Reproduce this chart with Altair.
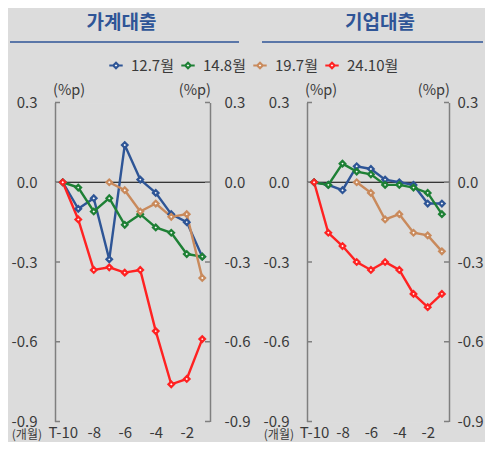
import altair as alt
import pandas as pd

# ---------------- data ----------------
months = [-10, -9, -8, -7, -6, -5, -4, -3, -2, -1]
series_names = ["12.7월", "14.8월", "19.7월", "24.10월"]
series_colors = ["#2E5596", "#1E8035", "#C98A5C", "#FF2222"]

# 가계대출 (household loans)
hh_127 = [0.00, -0.10, -0.06, -0.29, 0.14, 0.01, -0.04, -0.12, -0.15, -0.28]
hh_148 = [0.00, -0.02, -0.11, -0.06, -0.16, -0.12, -0.17, -0.19, -0.27, -0.28]
hh_197 = [None, None, None, 0.00, -0.03, -0.11, -0.08, -0.13, -0.12, -0.36]
hh_2410 = [0.00, -0.14, -0.33, -0.32, -0.34, -0.33, -0.56, -0.76, -0.74, -0.59]

# 기업대출 (corporate loans)
cp_127 = [0.00, -0.01, -0.03, 0.06, 0.05, 0.01, 0.00, -0.01, -0.08, -0.08]
cp_148 = [0.00, -0.01, 0.07, 0.04, 0.03, -0.01, -0.01, -0.02, -0.04, -0.12]
cp_197 = [None, None, None, 0.00, -0.04, -0.14, -0.12, -0.19, -0.20, -0.26]
cp_2410 = [0.00, -0.19, -0.24, -0.30, -0.33, -0.30, -0.33, -0.42, -0.47, -0.42]

y_ticks = [0.3, 0.0, -0.3, -0.6, -0.9]
x_ticks = [-10, -8, -6, -4, -2]
zero_line = [0.0]

# ---------------- style ----------------
FONT = "Noto Sans CJK KR"
TXT = "#3A3A3A"
GRAY = "#7F7F7F"
BLUE = "#2F5597"
BG = "#DCDCDC"
H = 319


def long_df(lists):
    rows = []
    for name, vals in zip(series_names, lists):
        for m, v in zip(months, vals):
            if v is not None:
                rows.append({"month": m, "value": v, "series": name})
    return pd.DataFrame(rows)


def one():
    return alt.Data(values=[{}])


def txt(text, x, y, size, color=TXT, weight="normal", align="center", baseline="middle"):
    return alt.Chart(one()).mark_text(
        text=text, fontSize=size, color=color, fontWeight=weight,
        align=align, baseline=baseline, font=FONT
    ).encode(x=alt.value(x), y=alt.value(y))


ylabel = "datum.value < 0 ? '-' + format(-datum.value, '.1f') : format(datum.value, '.1f')"
xlabel = "datum.value == -10 ? 'T-10' : '-' + format(-datum.value, 'd')"


def panel(df, W, title, title_cx, ul_x1, ul_x2, lpad, rpad, show_legend):
    yscale = alt.Scale(domain=[-0.9, 0.3], nice=False, zero=False)
    xscale = alt.Scale(domain=[-10.5, -0.5], nice=False, zero=False)
    xaxis = alt.Axis(values=x_ticks, labelExpr=xlabel, domain=False, ticks=False,
                     grid=False, labelPadding=4, labelFontSize=15, labelColor=TXT,
                     labelFont=FONT, title=None)
    if show_legend:
        legend = alt.Legend(
            orient="none", legendX=53, legendY=-45, direction="horizontal", title=None,
            labelFontSize=15, labelColor=TXT, labelFont=FONT, labelOffset=7,
            columnPadding=2, symbolType="M-1,0H-0.4M0.4,0H1M0,-0.4L0.4,0L0,0.4L-0.4,0Z",
            symbolSize=180, symbolStrokeWidth=2.2, symbolFillColor="white",
        )
    else:
        legend = None
    stroke = alt.Stroke("series:N", sort=series_names,
                        scale=alt.Scale(domain=series_names, range=series_colors),
                        legend=legend)

    zero = alt.Chart(pd.DataFrame({"value": zero_line})).mark_rule(
        color="black", strokeWidth=1.2
    ).encode(y=alt.Y("value:Q", scale=yscale, axis=None))

    base = alt.Chart(df)
    lines = base.mark_line(strokeWidth=2.4).encode(
        x=alt.X("month:Q", scale=xscale, axis=xaxis),
        y=alt.Y("value:Q", scale=yscale, axis=alt.Axis(
            orient="left", values=y_ticks, labelExpr=ylabel, ticks=False, grid=False,
            domainColor=GRAY, domainWidth=1.5, labelPadding=lpad, labelFontSize=15,
            labelColor=TXT, labelFont=FONT, title=None)),
        stroke=stroke,
        detail="series:N",
    )
    points = base.mark_point(shape="diamond", filled=True, fill="white", size=30,
                             strokeWidth=2.3, opacity=1).encode(
        x=alt.X("month:Q", scale=xscale, axis=xaxis),
        y=alt.Y("value:Q", scale=yscale, axis=None),
        stroke=stroke,
    )

    tdf = pd.DataFrame({"value": y_ticks})
    lticks = alt.Chart(tdf).mark_rule(color=GRAY, strokeWidth=1.5).encode(
        y=alt.Y("value:Q", scale=yscale, axis=None),
        x=alt.value(0), x2=alt.value(5))
    rticks = alt.Chart(tdf).mark_rule(color=GRAY, strokeWidth=1.5).encode(
        y=alt.Y("value:Q", scale=yscale, axis=alt.Axis(
            orient="right", values=y_ticks, labelExpr=ylabel, ticks=False, grid=False,
            domainColor=GRAY, domainWidth=1.5, labelPadding=rpad, labelFontSize=15,
            labelColor=TXT, labelFont=FONT, title=None)),
        x=alt.value(W - 5), x2=alt.value(W))

    underline = alt.Chart(one()).mark_rule(color=BLUE, strokeWidth=1.5).encode(
        x=alt.value(ul_x1), x2=alt.value(ul_x2), y=alt.value(-60.5))

    texts = [
        txt(title, title_cx, -80, 19, color=BLUE, weight="bold"),
        txt("(%p)", -2, -11.5, 14.5, align="left"),
        txt("(%p)", W + 1, -11.5, 14.5, align="right"),
        txt("(개월)", -13, 332, 12, align="right"),
    ]

    return alt.layer(zero, lticks, rticks, lines, points, underline, *texts).properties(
        width=W, height=H
    ).resolve_axis(y="independent")


left = panel(long_df([hh_127, hh_148, hh_197, hh_2410]), 155, "가계대출", 66.5,
             -45, 184, 18, 14, True)
right = panel(long_df([cp_127, cp_148, cp_197, cp_2410]), 142, "기업대출", 73,
              -45, 176, 18, 8, False)

chart = alt.hconcat(left, right, spacing=9).resolve_scale(stroke="shared").properties(
    padding={"left": 0, "top": 4.5, "right": 0, "bottom": 0},
    background=BG,
).configure_view(stroke=None).configure(font=FONT)

chart.save("out.html", embed_options={"renderer": "svg", "actions": False})
